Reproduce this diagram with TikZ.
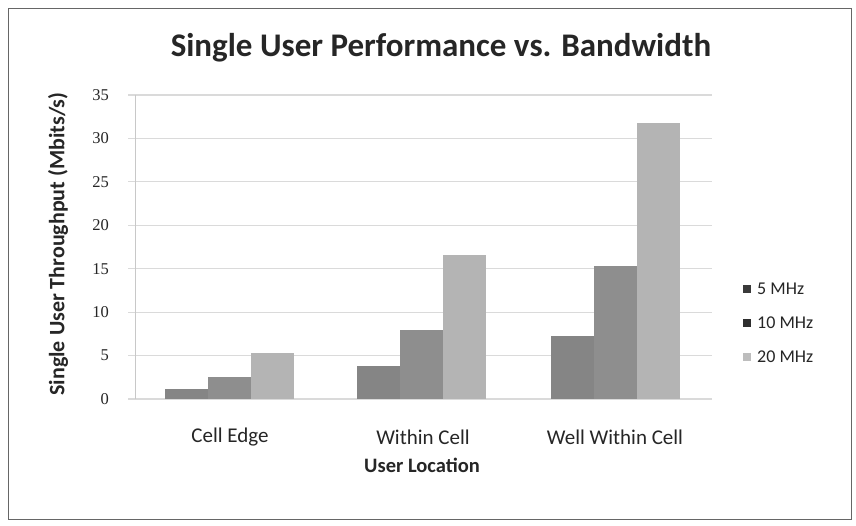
\documentclass[tikz,border=0pt]{standalone}
\usepackage{fontspec}
\setmainfont{Carlito}
\newfontfamily\tickfont{Liberation Serif}
\definecolor{gridc}{HTML}{DADADA}
\definecolor{axisc}{HTML}{C8C8C8}
\definecolor{barA}{HTML}{858585}
\definecolor{barB}{HTML}{8E8E8E}
\definecolor{barC}{HTML}{B4B4B4}
\definecolor{keyA}{HTML}{3A3A3A}
\definecolor{keyB}{HTML}{2E2E2E}
\definecolor{keyC}{HTML}{BDBDBD}
\definecolor{txt}{HTML}{262626}
\tikzset{
  gridline/.style={gridc, line width=1.2},
  ticklabel/.style={anchor=east, font=\tickfont\fontsize{16.5}{17}\selectfont, text=txt, inner sep=0},
  catlabel/.style={font=\fontsize{21}{22}\selectfont, text=txt, inner sep=0},
  keytext/.style={anchor=west, font=\fontsize{18}{19}\selectfont, text=txt, inner sep=0},
  keybox/.style={minimum size=8, inner sep=0},
  axistitle/.style={font=\bfseries\fontsize{20.5}{22}\selectfont, text=txt, inner sep=0},
}
\begin{document}
\begin{tikzpicture}[x=1pt,y=-1pt]
\useasboundingbox (0,0) rectangle (856,526);
\fill[white] (0,0) rectangle (856,526);
% chart frame
\draw[gray!80!black, line width=0.7] (8,8) rectangle (851,519);

% title
\node[font=\bfseries\fontsize{33}{36}\selectfont, text=txt, inner sep=0] (title) at (441,48) {Single User Performance vs. Bandwidth};

% horizontal grid lines and tick labels (scale: 8.686 per Mbit/s, zero at y=399)
\foreach \v in {0,5,...,35}{
  \draw[gridline] (128,{399-8.686*\v}) -- (712,{399-8.686*\v});
  \node[ticklabel] (tick\v) at (109,{399-8.686*\v}) {\v};
}
\draw[axisc, line width=1] (135,95) -- (135,399);

% bars: 5 MHz, 10 MHz, 20 MHz per location
\def\bw{43}
\foreach \x/\a/\b/\c in {165/1.1/2.5/5.3, 357/3.8/7.9/16.6, 551/7.3/15.3/31.8}{
  \fill[barA] (\x,399) rectangle ({\x+\bw},{399-8.686*\a});
  \fill[barB] ({\x+\bw},399) rectangle ({\x+2*\bw},{399-8.686*\b});
  \fill[barC] ({\x+2*\bw},399) rectangle ({\x+3*\bw},{399-8.686*\c});
}

% category labels
\node[catlabel] (catA) at (230,437) {Cell Edge};
\node[catlabel] (catB) at (423,437) {Within Cell};
\node[catlabel] (catC) at (615,437) {Well Within Cell};

% axis titles
\node[axistitle] (xtitle) at (422,465) {User Location};
\node[axistitle, font=\bfseries\fontsize{22}{23}\selectfont, rotate=90] (ytitle) at (58,244) {Single User Throughput (Mbits/s)};

% legend
\node[keybox, fill=keyA] (keyA) at (747,289) {};
\node[keytext] (keyAt) at (757,289) {5 MHz};
\node[keybox, fill=keyB] (keyB) at (747,323) {};
\node[keytext] (keyBt) at (757,323) {10 MHz};
\node[keybox, fill=keyC] (keyC) at (747,357) {};
\node[keytext] (keyCt) at (757,357) {20 MHz};
\end{tikzpicture}
\end{document}
